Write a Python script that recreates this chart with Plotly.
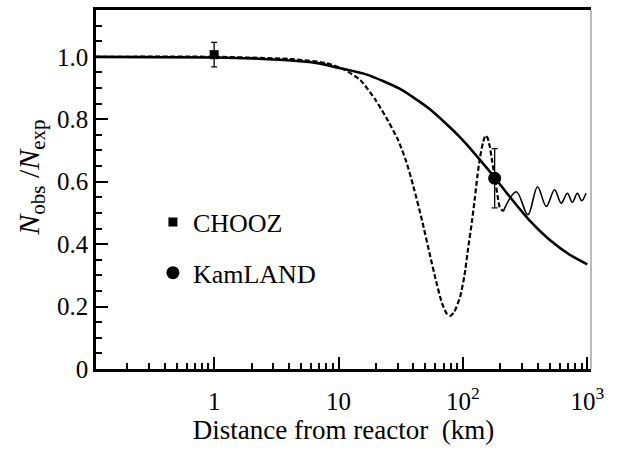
import plotly.graph_objects as go

# ---- data ----
solid_km = [0.11, 1.0, 2.0, 4.9, 7.0, 9.9, 16.9, 31.2, 54.3, 94.6, 165.0, 239.0, 345.0, 500.0, 723.0, 1000.0]
solid_ratio = [1.0, 0.998, 0.995, 0.986, 0.979, 0.965, 0.943, 0.897, 0.832, 0.743, 0.632, 0.551, 0.475, 0.413, 0.366, 0.335]

dash_km = [0.11, 1.0, 4.0, 8.0, 11.0, 15.0, 20.0, 25.0, 30.0, 35.0, 40.0, 47.0, 54.0, 61.0, 68.0, 74.0,
           79.0, 85.0, 95.0, 103.0, 110.0, 118.0, 125.0, 131.0, 137.0, 145.0, 152.0, 158.0, 165.0,
           172.0, 181.0, 190.0, 198.0, 211.0]
dash_ratio = [1.0, 1.0, 0.993, 0.98, 0.96, 0.925, 0.86, 0.795, 0.735, 0.665, 0.585, 0.475, 0.37, 0.28, 0.21, 0.178,
              0.17, 0.182, 0.232, 0.30, 0.385, 0.47, 0.55, 0.62, 0.675, 0.725, 0.748, 0.74, 0.71,
              0.665, 0.61, 0.555, 0.518, 0.505]

wiggle_km = [211.0, 269.0, 333.0, 398.0, 468.0, 546.0, 617.0, 692.0, 759.0, 832.0, 902.0, 977.0]
wiggle_ratio = [0.505, 0.568, 0.494, 0.584, 0.521, 0.574, 0.531, 0.563, 0.534, 0.563, 0.539, 0.563]

chooz_km = [1.0]
chooz_ratio = [1.007]
chooz_err = [0.039]

kamland_km = [180.0]
kamland_ratio = [0.611]
kamland_err = [0.095]

x_tick_vals = [1, 10, 100, 1000]
x_tick_text = ["1", "10", "10<sup>2</sup>", "10<sup>3</sup>"]
x_minor_mult = [2, 3, 4, 5, 6, 7, 8, 9]
x_minor_decades = [0.1, 1, 10, 100]

y_tick_vals = [0, 0.2, 0.4, 0.6, 0.8, 1.0]
y_tick_text = ["0", "0.2", "0.4", "0.6", "0.8", "1.0"]
y_minor_vals = [0.05, 0.1, 0.15, 0.25, 0.3, 0.35, 0.45, 0.5, 0.55, 0.65, 0.7, 0.75,
                0.85, 0.9, 0.95, 1.05, 1.1]

FONT = "Liberation Serif, Times New Roman, Times, DejaVu Serif, serif"

x_minor_vals = [d * m for d in x_minor_decades for m in x_minor_mult]

fig = go.Figure()

fig.add_trace(go.Scatter(x=dash_km, y=dash_ratio, mode="lines",
                         line=dict(color="black", width=2.2, dash="5px,2.5px", shape="spline", smoothing=0.6),
                         showlegend=False, hoverinfo="skip"))
fig.add_trace(go.Scatter(x=wiggle_km, y=wiggle_ratio, mode="lines",
                         line=dict(color="black", width=1.6, shape="spline", smoothing=1.0),
                         showlegend=False, hoverinfo="skip"))
fig.add_trace(go.Scatter(x=solid_km, y=solid_ratio, mode="lines",
                         line=dict(color="black", width=2.6, shape="spline", smoothing=0.6),
                         showlegend=False, hoverinfo="skip"))

fig.add_trace(go.Scatter(x=chooz_km, y=chooz_ratio, mode="markers", name="CHOOZ",
                         marker=dict(symbol="square", size=9, color="black"),
                         error_y=dict(type="data", array=chooz_err, visible=True,
                                      color="black", thickness=1.3, width=3),
                         legend="legend"))
fig.add_trace(go.Scatter(x=kamland_km, y=kamland_ratio, mode="markers", name="KamLAND",
                         marker=dict(symbol="circle", size=13, color="black"),
                         error_y=dict(type="data", array=kamland_err, visible=True,
                                      color="black", thickness=1.3, width=3),
                         legend="legend2"))

axis_common = dict(showgrid=False, zeroline=False, showline=True, linecolor="black",
                   linewidth=2.5, ticks="inside", ticklen=12, tickwidth=2, tickcolor="black",
                   tickfont=dict(family=FONT, size=25, color="black"))

fig.update_xaxes(type="log", range=[-0.95, 3.03], mirror=True,
                 tickmode="array", tickvals=x_tick_vals, ticktext=x_tick_text,
                 ticklabelstandoff=8,
                 minor=dict(ticks="inside", ticklen=6, tickwidth=1.5, tickcolor="black",
                            tickmode="array", tickvals=x_minor_vals, showgrid=False),
                 title=dict(text="Distance from reactor&nbsp; (km)",
                            font=dict(family=FONT, size=27, color="black"), standoff=6),
                 **axis_common)
fig.update_yaxes(range=[0, 1.15], mirror=False,
                 tickmode="array", tickvals=y_tick_vals, ticktext=y_tick_text,
                 ticklabelstandoff=0,
                 minor=dict(ticks="inside", ticklen=6, tickwidth=1.5, tickcolor="black",
                            tickmode="array", tickvals=y_minor_vals, showgrid=False),
                 **axis_common)

legend_common = dict(bgcolor="rgba(0,0,0,0)", borderwidth=0,
                     font=dict(family=FONT, size=26, color="black"),
                     xanchor="left", yanchor="middle", itemwidth=30)
fig.update_layout(
    width=617, height=453,
    margin=dict(l=96, r=26, t=7, b=84),
    paper_bgcolor="white", plot_bgcolor="white",
    font=dict(family=FONT, color="black"),
    legend=dict(x=0.115, y=0.409, **legend_common),
    legend2=dict(x=0.115, y=0.268, **legend_common),
    annotations=[dict(text="<i>N</i><sub>obs</sub> /<i>N</i><sub>exp</sub>",
                      xref="paper", yref="paper", x=-0.133, y=0.533,
                      xanchor="center", yanchor="middle", textangle=-90, showarrow=False,
                      font=dict(family=FONT, size=30, color="black"))],
    shapes=[dict(type="line", xref="paper", yref="paper", x0=1, x1=1, y0=0, y1=1,
                 line=dict(color="#777777", width=1))],
)

fig.write_html("out.html")
